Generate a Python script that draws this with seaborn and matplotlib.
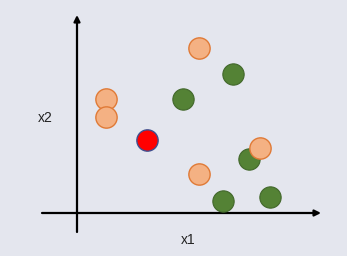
import matplotlib
matplotlib.use("Agg")
import matplotlib.pyplot as plt
import seaborn as sns
import pandas as pd

# data (x1, x2) in axis units
orange_x1 = [12.2, 2.9, 2.9, 18.3, 12.2]
orange_x2 = [16.5, 11.4, 9.6, 6.5, 3.9]
green_x1 = [15.6, 10.6, 17.2, 14.6, 19.3]
green_x2 = [13.9, 11.4, 5.4, 1.2, 1.6]
red_x1 = [7.0]
red_x2 = [7.3]
x_label = "x1"
y_label = "x2"

sns.set_theme(style="white")
plt.rcParams['font.family'] = ['Liberation Sans', 'DejaVu Sans']
bg = "#e4e6ee"

fig = plt.figure(figsize=(3.47, 2.56), dpi=100, facecolor=bg)
ax = fig.add_axes([0, 0, 1, 1])
ax.set_facecolor(bg)
ax.set_xlim(-7.7, 27.0)
ax.set_ylim(-4.3, 21.3)
ax.axis("off")

# axes arrows
ax.annotate("", xy=(24.4, 0), xytext=(-3.5, 0),
            arrowprops=dict(arrowstyle="-|>", color="black", lw=1.6, mutation_scale=9,
                            shrinkA=0, shrinkB=0))
ax.annotate("", xy=(0, 19.8), xytext=(0, -1.9),
            arrowprops=dict(arrowstyle="-|>", color="black", lw=1.6, mutation_scale=9,
                            shrinkA=0, shrinkB=0))

df_g = pd.DataFrame({"x1": green_x1, "x2": green_x2})
df_o = pd.DataFrame({"x1": orange_x1, "x2": orange_x2})
df_r = pd.DataFrame({"x1": red_x1, "x2": red_x2})

sns.scatterplot(data=df_g, x="x1", y="x2", ax=ax, color="#548235",
                edgecolor="#41672a", linewidth=0.8, s=235, zorder=3)
sns.scatterplot(data=df_o, x="x1", y="x2", ax=ax, color="#f4b183",
                edgecolor="#e07a36", linewidth=1.0, s=235, zorder=4)
sns.scatterplot(data=df_r, x="x1", y="x2", ax=ax, color="#ff0000",
                edgecolor="#3f4f8f", linewidth=1.0, s=235, zorder=5)

ax.text(11.1, -2.7, x_label, fontsize=10, ha="center", va="center", color="#222222")
ax.text(-3.2, 9.5, y_label, fontsize=10, ha="center", va="center", color="#222222")

fig.savefig("out.png", dpi=100, facecolor=bg)
